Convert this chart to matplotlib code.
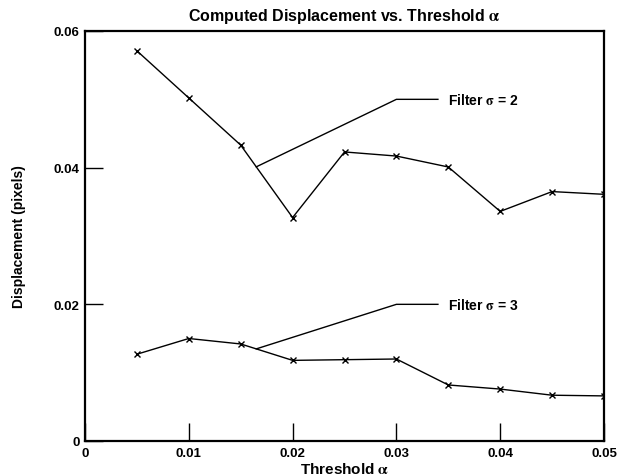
import matplotlib
matplotlib.use("Agg")
import matplotlib.pyplot as plt
import numpy as np

plt.rcParams['font.family'] = ['Liberation Sans', 'DejaVu Sans']
plt.rcParams['font.weight'] = 'bold'
plt.rcParams['mathtext.fontset'] = 'stix'

threshold = np.array([0.005, 0.010, 0.015, 0.020, 0.025, 0.030, 0.035, 0.040, 0.045, 0.050])
disp_sigma2 = np.array([0.0571, 0.0502, 0.0433, 0.0327, 0.0423, 0.0417, 0.0401, 0.0336, 0.0365, 0.0361])
disp_sigma3 = np.array([0.0127, 0.0150, 0.0142, 0.0118, 0.0119, 0.0120, 0.0082, 0.0076, 0.0067, 0.0066])

xticks = [0, 0.01, 0.02, 0.03, 0.04, 0.05]
xticklabels = ['0', '0.01', '0.02', '0.03', '0.04', '0.05']
yticks = [0, 0.02, 0.04, 0.06]
yticklabels = ['0', '0.02', '0.04', '0.06']

fig = plt.figure(figsize=(6.17, 4.77), dpi=100)
ax = fig.add_axes([85 / 617, 1 - 442 / 477, 519 / 617, 410 / 477])

for y in (disp_sigma2, disp_sigma3):
    ax.plot(threshold, y, '-x', color='black', linewidth=1.0,
            markersize=4.5, markeredgewidth=1.0)

# leader lines from each curve out to its label
labels = [(disp_sigma2, 0.050, r'Filter $\mathrm{\sigma}$ = 2'),
          (disp_sigma3, 0.020, r'Filter $\mathrm{\sigma}$ = 3')]
for y, ylab, text in labels:
    x0 = 0.0165
    y0 = np.interp(x0, threshold, y)
    ax.plot([x0, 0.030, 0.034], [y0, ylab, ylab], color='black', linewidth=1.0)
    ax.text(0.035, ylab, text, fontsize=10, fontweight='bold', va='center', ha='left')

ax.set_xlim(0, 0.05)
ax.set_ylim(0, 0.06)
ax.set_xticks(xticks)
ax.set_xticklabels(xticklabels)
ax.set_yticks(yticks)
ax.set_yticklabels(yticklabels)
ax.tick_params(direction='in', length=13, width=1.0, labelsize=9.5, pad=4)
for lab in ax.get_xticklabels() + ax.get_yticklabels():
    lab.set_fontweight('bold')
for s in ax.spines.values():
    s.set_linewidth(1.6)

ax.set_xlabel(r'Threshold $\mathrm{\alpha}$', fontsize=11, fontweight='bold', labelpad=2)
ax.set_ylabel('Displacement (pixels)', fontsize=10, fontweight='bold', labelpad=20)
ax.set_title(r'Computed Displacement vs. Threshold $\mathrm{\alpha}$', fontsize=11.5,
             fontweight='bold', pad=8)

fig.savefig('out.png', dpi=100)
